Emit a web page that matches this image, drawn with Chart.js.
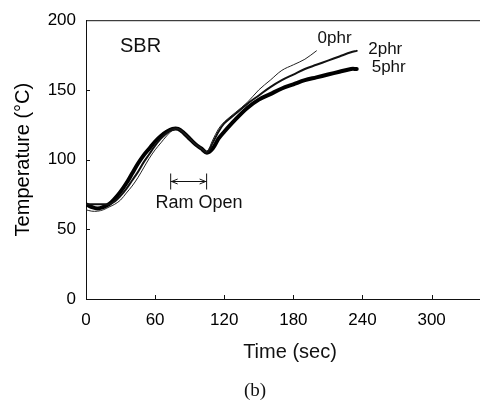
<!DOCTYPE html>
<html>
<head>
<meta charset="utf-8">
<script src="https://cdn.jsdelivr.net/npm/chart.js@4"></script>
<style>
  html, body { margin: 0; padding: 0; background: #fff; }
  #wrap { width: 480px; height: 401px; }
</style>
</head>
<body>
<div id="wrap"><canvas id="tempChart"></canvas></div>
<script>
// === Data ===
const timeSec = [0, 5, 10, 15, 20, 25, 30, 35, 40, 45, 50, 55, 60, 65, 70, 75, 80, 85, 90, 95, 100, 105, 110, 115, 120, 130, 140, 150, 160, 170, 180, 190, 200, 210, 220, 230, 235];
const temp0phr = [64, 63, 63, 64, 66, 68, 71, 76, 81, 87, 94, 101, 107, 112, 117, 121, 122, 119, 115, 111, 108, 106, 114, 122, 127, 134, 141, 150, 157, 164, 168, 172, 178];
const temp2phr = [68, 68, 68, 68, 68, 70, 74, 79, 85, 91, 98, 104, 110, 115, 119, 122, 122, 119, 115, 111, 108, 105, 112, 120, 126, 133, 140, 146, 152, 157, 161, 165, 168, 171, 174, 177, 178];
const temp5phr = [68, 66, 65, 66, 68, 72, 77, 83, 90, 97, 103, 108, 113, 117, 120, 122, 122, 119, 115, 111, 108, 105, 108, 115, 120, 129, 137, 143, 147, 151, 154, 157, 159, 161, 163, 165, 165];
const seriesNames = ['0phr', '2phr', '5phr'];
const xTicks = [0, 60, 120, 180, 240, 300];
const yTicks = [0, 50, 100, 150, 200];
const ramOpen = [73.5, 104.7];

const FONT = "'Liberation Sans', Arial, sans-serif";

function toPoints(values) {
    return values.map((v, i) => ({ x: timeSec[i], y: v }));
}

// === Extra drawing: frame, inner ticks, labels ===
const decorPlugin = {
    id: 'decor',
    afterDatasetsDraw(chart) {
        const { ctx, chartArea: a, scales: { x, y } } = chart;
        ctx.save();
        ctx.strokeStyle = '#111';
        ctx.fillStyle = '#111';
        ctx.lineWidth = 1;

        // top frame line
        ctx.beginPath();
        ctx.moveTo(a.left, a.top + 0.5);
        ctx.lineTo(a.right, a.top + 0.5);
        ctx.stroke();

        // inward tick marks
        ctx.beginPath();
        xTicks.slice(1).forEach(t => {
            const px = Math.round(x.getPixelForValue(t)) + 0.5;
            ctx.moveTo(px, a.bottom);
            ctx.lineTo(px, a.bottom - 4);
        });
        yTicks.slice(1, -1).forEach(t => {
            const py = Math.round(y.getPixelForValue(t)) + 0.5;
            ctx.moveTo(a.left, py);
            ctx.lineTo(a.left + 4, py);
        });
        ctx.stroke();

        // text labels
        ctx.textBaseline = 'middle';
        ctx.textAlign = 'left';
        ctx.font = `20px ${FONT}`;
        ctx.fillText('SBR', x.getPixelForValue(29.5), y.getPixelForValue(181));

        ctx.font = `17px ${FONT}`;
        ctx.fillText(seriesNames[0], x.getPixelForValue(201), y.getPixelForValue(187));
        ctx.fillText(seriesNames[1], x.getPixelForValue(245), y.getPixelForValue(179));
        ctx.fillText(seriesNames[2], x.getPixelForValue(248), y.getPixelForValue(166));

        // Ram Open arrow
        const x1 = x.getPixelForValue(ramOpen[0]);
        const x2 = x.getPixelForValue(ramOpen[1]);
        const ya = Math.round(y.getPixelForValue(85)) + 0.5;
        ctx.beginPath();
        ctx.moveTo(x1, ya - 8); ctx.lineTo(x1, ya + 8);
        ctx.moveTo(x2, ya - 8); ctx.lineTo(x2, ya + 8);
        ctx.moveTo(x1, ya); ctx.lineTo(x2, ya);
        ctx.moveTo(x1 + 7, ya - 2.5); ctx.lineTo(x1 + 1, ya); ctx.lineTo(x1 + 7, ya + 2.5);
        ctx.moveTo(x2 - 7, ya - 2.5); ctx.lineTo(x2 - 1, ya); ctx.lineTo(x2 - 7, ya + 2.5);
        ctx.stroke();

        ctx.textAlign = 'center';
        ctx.font = `18px ${FONT}`;
        ctx.fillText('Ram Open', x.getPixelForValue(98), y.getPixelForValue(69));

        // x title and caption
        ctx.font = `20px ${FONT}`;
        ctx.fillText('Time (sec)', 290, 352);
        ctx.font = "19px 'Liberation Serif', 'Times New Roman', serif";
        ctx.fillText('(b)', 255, 391);
        ctx.restore();
    }
};

const ctx = document.getElementById('tempChart').getContext('2d');
new Chart(ctx, {
    type: 'line',
    data: {
        datasets: [
            { label: seriesNames[0], data: toPoints(temp0phr), borderColor: '#222', borderWidth: 1 },
            { label: seriesNames[1], data: toPoints(temp2phr), borderColor: '#111', borderWidth: 2 },
            { label: seriesNames[2], data: toPoints(temp5phr), borderColor: '#000', borderWidth: 4 },
        ]
    },
    options: {
        responsive: true,
        maintainAspectRatio: false,
        animation: false,
        events: [],
        layout: { padding: { top: 16, right: 0, left: 0, bottom: 0 } },
        elements: {
            point: { radius: 0 },
            line: { tension: 0.35, fill: false, borderCapStyle: 'round', borderJoinStyle: 'round' }
        },
        plugins: {
            legend: { display: false },
            tooltip: { enabled: false }
        },
        scales: {
            x: {
                type: 'linear',
                min: 0,
                max: 342,
                afterFit: (scale) => { scale.height = 102; },
                afterBuildTicks: (scale) => { scale.ticks = xTicks.map(v => ({ value: v })); },
                grid: { display: false, drawTicks: false },
                border: { display: true, color: '#111', width: 1 },
                ticks: { padding: 11, color: '#000', font: { family: FONT, size: 17 } }
            },
            y: {
                min: 0,
                max: 200,
                afterFit: (scale) => { scale.width = 86; },
                afterBuildTicks: (scale) => { scale.ticks = yTicks.map(v => ({ value: v })); },
                grid: { display: false, drawTicks: false },
                border: { display: true, color: '#111', width: 1 },
                ticks: { padding: 10, color: '#000', font: { family: FONT, size: 17 } },
                title: {
                    display: true,
                    text: 'Temperature (°C)',
                    color: '#000',
                    font: { family: FONT, size: 20 },
                    padding: { top: 11, bottom: 0 }
                }
            }
        }
    },
    plugins: [decorPlugin]
});
</script>
</body>
</html>
